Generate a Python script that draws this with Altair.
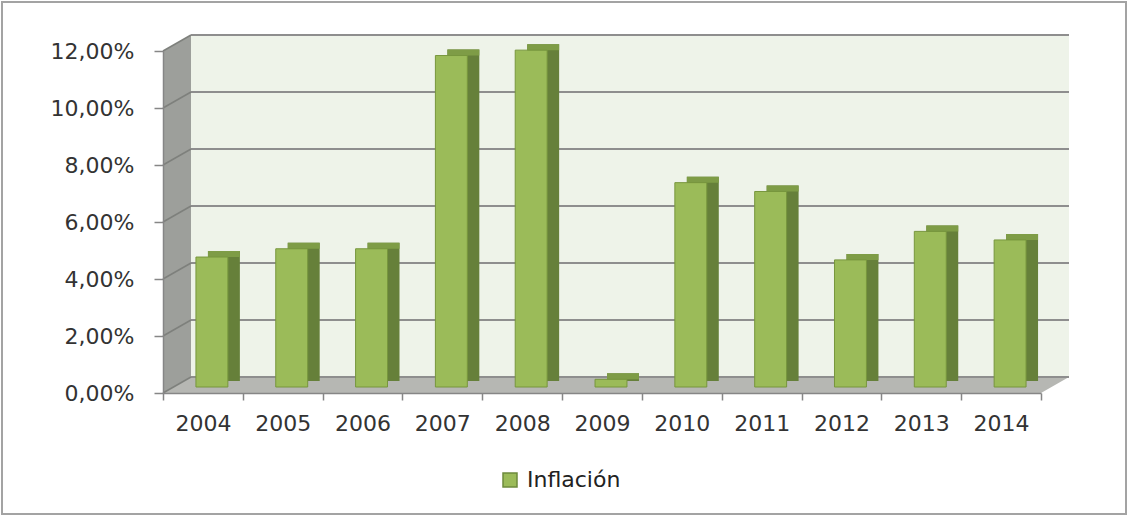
import altair as alt
import pandas as pd

# ---- data ----
years = ["2004", "2005", "2006", "2007", "2008", "2009", "2010", "2011", "2012", "2013", "2014"]
inflation = [0.0456, 0.0485, 0.0485, 0.1163, 0.1182, 0.0027, 0.0717, 0.0686, 0.0446, 0.0546, 0.0516]
series_name = "Inflación"
y_ticks = [0.0, 0.02, 0.04, 0.06, 0.08, 0.10, 0.12]

# ---- geometry / style ----
N = len(years)
W, H = 878, 342
BW = W / N                   # px per category
Y_MAX = 0.12
DXU = 28 / BW                # horizontal depth of the 3D box (category units)
DY = 16 / H * Y_MAX          # vertical depth of the 3D box (data units)
FONT = "DejaVu Sans"
FS = 22
AXIS_GRAY = "#868686"

idx = list(range(N))
bars_df = pd.DataFrame({
    "year": years, "value": inflation, "serie": series_name,
    "lo": [i + 0.3 for i in idx], "hi": [i + 0.7 for i in idx],
})

xscale = alt.Scale(domain=[0, N], nice=False, zero=False)
yscale = alt.Scale(domain=[0, Y_MAX], nice=False, zero=True)

year_lookup = "[" + ",".join("'%s'" % y for y in years) + "]"
x_axis = alt.Axis(
    title=None, values=list(range(N + 1)), labelAngle=0, zindex=1,
    labelExpr="datum.value < %d ? %s[datum.value] : ''" % (N, year_lookup),
    labelOffset=BW / 2, labelOverlap=False, labelFlush=False, labelBound=False,
    grid=False, domainColor=AXIS_GRAY, domainWidth=1.5,
    tickColor=AXIS_GRAY, tickWidth=1.5, tickSize=7,
    labelFont=FONT, labelFontSize=FS, labelColor="#333333", labelPadding=13,
)
y_axis = alt.Axis(
    title=None, values=y_ticks, grid=False, zindex=1,
    labelExpr="replace(format(datum.value, '.2%'), '.', ',')",
    domainColor=AXIS_GRAY, domainWidth=1.5,
    tickColor=AXIS_GRAY, tickWidth=1.5, tickSize=9,
    labelFont=FONT, labelFontSize=FS, labelColor="#333333", labelPadding=20,
)


def X(f):
    return alt.X(f, type="quantitative", scale=xscale, axis=x_axis)


def Y(f):
    return alt.Y(f, type="quantitative", scale=yscale, axis=y_axis)


# ---- decoration: walls / floor / grid ----
side_df = pd.DataFrame({"x": [0, DXU], "lo": [0, DY], "hi": [Y_MAX, Y_MAX + DY]})
side_wall = alt.Chart(side_df).mark_area(color="#9D9F9B").encode(
    x=X("x"), y=Y("hi"), y2="lo:Q",
)

floor_df = pd.DataFrame({"x": [0, DXU, N, N + DXU], "lo": [0, 0, 0, DY], "hi": [0, DY, DY, DY]})
floor = alt.Chart(floor_df).mark_area(color="#B6B7B3").encode(
    x=X("x"), y=Y("hi"), y2="lo:Q",
)

back_df = pd.DataFrame({"x": [DXU], "x2": [N + DXU], "lo": [DY], "hi": [Y_MAX + DY]})
back_wall = alt.Chart(back_df).mark_rect(color="#EEF3E9").encode(
    x=X("x"), x2="x2:Q", y=Y("hi"), y2="lo:Q",
)

grid_df = pd.DataFrame({
    "x0": [0] * len(y_ticks),
    "x1": [DXU] * len(y_ticks),
    "x2": [N + DXU] * len(y_ticks),
    "t": y_ticks,
    "tb": [t + DY for t in y_ticks],
})
back_grid = alt.Chart(grid_df).mark_rule(color="#8E8E8E", strokeWidth=2).encode(
    x=X("x1"), x2="x2:Q", y=Y("tb"),
)
side_grid = alt.Chart(grid_df).mark_rule(color="#7E807C", strokeWidth=1.5).encode(
    x=X("x0"), x2="x1:Q", y=Y("t"), y2="tb:Q",
)

frame = alt.Chart(pd.DataFrame({"k": [0]})).mark_rect(
    filled=False, stroke="#A3A3A3", strokeWidth=2
).encode(
    x=alt.value(-161), x2=alt.value(W + 85),
    y=alt.value(-49), y2=alt.value(H + 121),
)

# ---- bars (pseudo-3D) ----
base = alt.Chart(bars_df)
bar_side = base.mark_bar(
    color="#66803A", xOffset=21, x2Offset=21, yOffset=-12, y2Offset=-12
).encode(x=X("lo"), x2="hi:Q", y=Y("value"), y2=alt.datum(0))

bar_top = base.mark_bar(
    color="#7E9C46", xOffset=21, x2Offset=21, yOffset=-12, y2Offset=-6
).encode(x=X("lo"), x2="hi:Q", y=Y("value"), y2="value:Q")

bar_front = base.mark_bar(
    stroke="#77963D", strokeWidth=1, xOffset=9, x2Offset=9, yOffset=-6, y2Offset=-6
).encode(
    x=X("lo"), x2="hi:Q", y=Y("value"), y2=alt.datum(0),
    color=alt.Color(
        "serie:N",
        scale=alt.Scale(range=["#9BBB59"]),
        legend=alt.Legend(
            title=None, orient="none", legendX=336, legendY=418, padding=0,
            symbolType="square", symbolSize=196, symbolStrokeColor="#6E8B3D",
            symbolStrokeWidth=1.5, symbolFillColor="#9BBB59",
            labelFont=FONT, labelFontSize=FS, labelColor="#222222", labelOffset=6,
        ),
    ),
)

chart = alt.layer(
    frame, back_wall, side_wall, floor, back_grid, side_grid, bar_side, bar_top, bar_front
).properties(
    width=W, height=H,
    autosize=alt.AutoSizeParams(type="none"),
    padding={"left": 163, "top": 51, "right": 86, "bottom": 124},
    background="white",
).configure_view(stroke=None)

chart.save("out.html", embed_options={"renderer": "svg", "actions": False})
